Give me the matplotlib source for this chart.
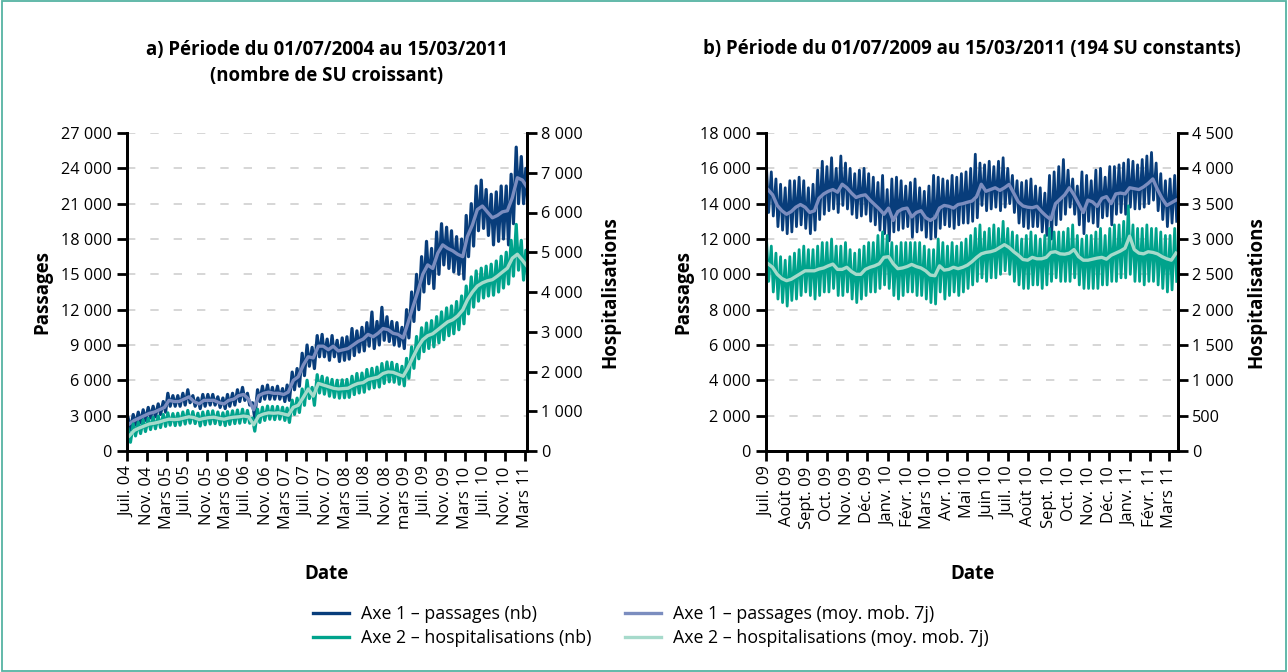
import matplotlib
matplotlib.use("Agg")
import matplotlib.pyplot as plt
from matplotlib.lines import Line2D
from matplotlib.patches import Rectangle
import numpy as np
import pandas as pd

plt.rcParams['font.family'] = ['Open Sans', 'DejaVu Sans']

# ---------------- Panel a data (monthly, Jul 2004 -> Mar 2011) ----------------
a_start = "2004-07-01"
a_end = "2011-03-15"
a_pass_ma = [2300, 2600, 2800, 3000, 3200, 3300, 3500, 3700, 4300, 4200,
             4200, 4400, 4600, 4200, 4000, 4300, 4300, 4300, 4100, 4000,
             4300, 4400, 4700, 4800, 4400, 3500, 4700, 4900, 5000, 4900,
             4900, 4800, 5000, 6000, 6300, 7300, 8000, 7900, 8900, 8900,
             8600, 8900, 8500, 8600, 8700, 9000, 9300, 9500, 9900, 9700,
             10000, 10400, 10300, 10000, 9900, 9600, 10800, 12200, 13500, 15000,
             15800, 15500, 16800, 17500, 17200, 17000, 16700, 16500, 18200, 19200,
             20500, 20800, 20300, 19800, 20000, 20300, 20400, 21500, 23200, 23000,
             22400]
a_pass_hi = [2800, 3100, 3300, 3500, 3700, 3800, 4000, 4200, 4900, 4700,
             4700, 4900, 5200, 4700, 4500, 4800, 4800, 4800, 4600, 4500,
             4800, 4900, 5200, 5400, 4900, 4100, 5200, 5500, 5600, 5400,
             5500, 5300, 5600, 6700, 7000, 8300, 9000, 8800, 9800, 9900,
             9500, 9800, 9400, 9600, 9700, 10400, 10200, 10500, 10900, 11800,
             11000, 12200, 11400, 11000, 10900, 10500, 12000, 13500, 15000, 16500,
             17800, 17200, 18600, 19300, 19000, 18700, 18200, 18000, 20000, 21000,
             22500, 23000, 22200, 21800, 22000, 22500, 22500, 23500, 25800, 25000,
             24000]
a_pass_lo = [1800, 2200, 2400, 2600, 2800, 2900, 3100, 3300, 3800, 3800,
             3800, 3900, 4100, 3800, 3600, 3800, 3900, 3900, 3700, 3600,
             3800, 3900, 4200, 4300, 3900, 2800, 4200, 4400, 4400, 4400,
             4400, 4200, 4300, 5200, 5500, 6400, 7200, 7000, 8000, 8000,
             7700, 8000, 7600, 7700, 7800, 8100, 8400, 8500, 8900, 8700,
             9000, 9400, 9300, 9000, 8900, 8700, 9600, 11000, 12000, 13500,
             14200, 13800, 15000, 15800, 15500, 15200, 15000, 14600, 16500, 17400,
             18700, 18900, 18300, 17500, 17800, 18000, 17500, 19300, 21000, 21000,
             20500]
a_hosp_ma = [380, 520, 580, 630, 680, 700, 730, 770, 800, 790,
             800, 830, 860, 840, 790, 820, 840, 850, 820, 800,
             830, 850, 860, 880, 860, 660, 880, 930, 960, 950,
             960, 930, 900, 1100, 1150, 1350, 1560, 1380, 1700, 1660,
             1620, 1580, 1560, 1570, 1580, 1650, 1700, 1720, 1800, 1830,
             1860, 1950, 1990, 1980, 1930, 1880, 2080, 2350, 2600, 2800,
             2900, 2950, 3050, 3150, 3250, 3300, 3400, 3550, 3800, 4000,
             4150, 4230, 4280, 4310, 4400, 4500, 4600, 4850, 4950, 4800,
             4650]
a_hosp_hi = [550, 680, 720, 780, 820, 850, 880, 920, 960, 940,
             950, 980, 1020, 990, 950, 980, 1000, 1010, 980, 960,
             990, 1010, 1030, 1050, 1020, 830, 1050, 1100, 1130, 1120,
             1120, 1100, 1080, 1280, 1330, 1560, 1780, 1600, 1920, 1880,
             1840, 1800, 1780, 1790, 1800, 1880, 1950, 1960, 2050, 2080,
             2110, 2200, 2240, 2230, 2180, 2130, 2330, 2620, 2880, 3100,
             3220, 3280, 3380, 3500, 3600, 3650, 3760, 3900, 4150, 4380,
             4530, 4600, 4650, 4700, 4780, 4900, 5000, 5300, 5700, 5300,
             5050]
a_hosp_lo = [220, 380, 440, 490, 540, 560, 590, 620, 650, 640,
             650, 680, 700, 690, 630, 660, 680, 690, 660, 640,
             670, 690, 700, 720, 700, 500, 720, 770, 800, 790,
             800, 770, 720, 920, 970, 1150, 1320, 1150, 1460, 1430,
             1380, 1350, 1330, 1340, 1350, 1420, 1460, 1480, 1560, 1590,
             1610, 1700, 1740, 1730, 1680, 1640, 1830, 2080, 2320, 2500,
             2580, 2620, 2720, 2800, 2900, 2950, 3050, 3200, 3450, 3620,
             3770, 3850, 3900, 3920, 4000, 4100, 4200, 4400, 4550, 4300,
             4250]
a_tick_dates = ["2004-07-01", "2004-11-01", "2005-03-01", "2005-07-01", "2005-11-01",
                "2006-03-01", "2006-07-01", "2006-11-01", "2007-03-01", "2007-07-01",
                "2007-11-01", "2008-03-01", "2008-07-01", "2008-11-01", "2009-03-01",
                "2009-07-01", "2009-11-01", "2010-03-01", "2010-07-01", "2010-11-01",
                "2011-03-01"]
a_tick_labels = ["Juil. 04", "Nov. 04", "Mars 05", "Juil. 05", "Nov. 05", "Mars 06",
                 "Juil. 06", "Nov. 06", "Mars 07", "Juil. 07", "Nov. 07", "Mars 08",
                 "Juil. 08", "Nov. 08", "mars 09", "Juil. 09", "Nov. 09", "Mars 10",
                 "Juil. 10", "Nov. 10", "Mars 11"]
a_left_ticks = [0, 3000, 6000, 9000, 12000, 15000, 18000, 21000, 24000, 27000]
a_left_labels = ["0", "3 000", "6 000", "9 000", "12 000", "15 000", "18 000",
                 "21 000", "24 000", "27 000"]
a_right_ticks = [0, 1000, 2000, 3000, 4000, 5000, 6000, 7000, 8000]
a_right_labels = ["0", "1 000", "2 000", "3 000", "4 000", "5 000", "6 000",
                  "7 000", "8 000"]

# ---------------- Panel b data (weekly, Jul 2009 -> Mar 2011) ----------------
b_start = "2009-07-01"
b_end = "2011-03-15"
b_pass_ma = [14800, 14500, 13900, 13600, 13400, 13550, 13800, 13950, 13800, 13500,
             13600, 14300, 14550, 14700, 14800, 14650, 15100, 14900, 14600, 14350,
             14450, 14500, 14200, 13950, 13700, 13400, 13750, 13050, 13550, 13700,
             13750, 13250, 13500, 13600, 13210, 13050, 13200, 13750, 13900, 13850,
             13750, 13950, 14000, 14080, 14150, 14400, 15100, 14700, 14800, 14900,
             14750, 14900, 15090, 14600, 14100, 13870, 13800, 13770, 13850, 13550,
             13300, 13100, 14000, 14250, 14500, 14900, 14500, 14000, 13500, 14200,
             14100, 13850, 14300, 14400, 14000, 14550, 14600, 14550, 14900, 14850,
             14800, 14950, 15150, 15400, 14800, 14300, 13900, 14050, 14200]
b_pass_hi = [15900, 15800, 15400, 15100, 14900, 15300, 15300, 15500, 15300, 14900,
             15100, 15900, 16400, 16100, 16600, 16000, 16700, 16300, 16000, 15700,
             15900, 16000, 15700, 15500, 15200, 15600, 14800, 15400, 15500, 15300,
             15000, 15200, 15400, 14900, 14700, 15000, 15600, 15500, 15400, 15300,
             15600, 15500, 15700, 15800, 16000, 16800, 16300, 16200, 16400, 16100,
             16400, 16600, 16000, 15600, 15300, 15200, 15300, 15400, 15000, 14900,
             14600, 15600, 15800, 16100, 16500, 15900, 15400, 15000, 15800, 15600,
             15300, 15900, 16000, 15500, 16100, 16100, 16200, 16300, 16500, 16400,
             16200, 16500, 16700, 16900, 16300, 15700, 15300, 15400, 15600]
b_pass_lo = [13500, 13300, 12700, 12500, 12300, 12400, 12700, 12800, 12600, 12300,
             12500, 13100, 13400, 13600, 13700, 13500, 13900, 13700, 13400, 13200,
             13300, 13400, 13000, 12800, 12500, 12300, 11900, 12400, 12500, 12600,
             12700, 12100, 12400, 12500, 12100, 12000, 12100, 12600, 12800, 12700,
             12600, 12800, 12900, 12900, 13000, 13200, 13900, 13600, 13700, 13800,
             13600, 13800, 14000, 13500, 12900, 12700, 12600, 12700, 12700, 12400,
             12200, 12000, 12800, 13100, 13400, 13800, 13400, 12800, 12300, 13000,
             12900, 12700, 13200, 13300, 12800, 13400, 13500, 13400, 13800, 13700,
             13700, 13800, 14000, 14200, 13600, 13100, 12700, 12900, 13000]
b_hosp_ma = [2650, 2600, 2500, 2440, 2410, 2430, 2470, 2510, 2550, 2550,
             2550, 2575, 2590, 2620, 2645, 2570, 2570, 2600, 2540, 2500,
             2500, 2570, 2600, 2620, 2650, 2740, 2750, 2650, 2580, 2590,
             2610, 2640, 2610, 2590, 2550, 2490, 2480, 2620, 2560, 2570,
             2600, 2580, 2600, 2630, 2680, 2740, 2790, 2810, 2820, 2840,
             2880, 2920, 2880, 2820, 2770, 2710, 2700, 2740, 2720, 2720,
             2740, 2810, 2820, 2790, 2785, 2800, 2850, 2750, 2700, 2700,
             2715, 2730, 2740, 2715, 2770, 2800, 2830, 2870, 3040, 2850,
             2800, 2790, 2820, 2810, 2790, 2750, 2720, 2700, 2800]
b_hosp_hi = [2950, 2900, 2800, 2750, 2700, 2750, 2800, 2850, 2900, 2850,
             2850, 2900, 2950, 2950, 3000, 2900, 2900, 2950, 2850, 2800,
             2850, 2900, 2950, 2950, 3050, 3100, 3050, 2950, 2900, 2950,
             2950, 2950, 2950, 2950, 2900, 2850, 2850, 3000, 2950, 2900,
             2950, 2900, 2950, 3000, 3050, 3150, 3200, 3100, 3150, 3200,
             3150, 3250, 3150, 3100, 3050, 3000, 3050, 3100, 3050, 3000,
             3050, 3150, 3100, 3100, 3100, 3150, 3200, 3050, 3000, 3050,
             3050, 3100, 3150, 3050, 3150, 3200, 3200, 3250, 3470, 3200,
             3150, 3150, 3200, 3150, 3150, 3100, 3050, 3050, 3150]
b_hosp_lo = [2400, 2250, 2150, 2100, 2050, 2130, 2150, 2200, 2250, 2200,
             2150, 2200, 2250, 2250, 2300, 2200, 2200, 2250, 2150, 2100,
             2150, 2200, 2250, 2250, 2300, 2350, 2300, 2200, 2150, 2200,
             2250, 2250, 2200, 2200, 2150, 2100, 2080, 2250, 2150, 2200,
             2250, 2200, 2250, 2300, 2350, 2400, 2450, 2400, 2450, 2450,
             2500, 2550, 2500, 2400, 2350, 2300, 2300, 2350, 2350, 2300,
             2350, 2400, 2450, 2400, 2400, 2400, 2450, 2350, 2300, 2300,
             2300, 2300, 2350, 2350, 2400, 2400, 2450, 2450, 2500, 2400,
             2400, 2350, 2400, 2400, 2350, 2300, 2250, 2280, 2400]
b_tick_dates = ["2009-07-01", "2009-08-01", "2009-09-01", "2009-10-01", "2009-11-01",
                "2009-12-01", "2010-01-01", "2010-02-01", "2010-03-01", "2010-04-01",
                "2010-05-01", "2010-06-01", "2010-07-01", "2010-08-01", "2010-09-01",
                "2010-10-01", "2010-11-01", "2010-12-01", "2011-01-01", "2011-02-01",
                "2011-03-01"]
b_tick_labels = ["Juil. 09", "Août 09", "Sept. 09", "Oct. 09", "Nov. 09", "Déc. 09",
                 "Janv. 10", "Févr. 10", "Mars 10", "Avr. 10", "Mai 10", "Juin 10",
                 "Juil. 10", "Août 10", "Sept. 10", "Oct. 10", "Nov. 10", "Déc. 10",
                 "Janv. 11", "Févr. 11", "Mars 11"]
b_left_ticks = [0, 2000, 4000, 6000, 8000, 10000, 12000, 14000, 16000, 18000]
b_left_labels = ["0", "2 000", "4 000", "6 000", "8 000", "10 000", "12 000",
                 "14 000", "16 000", "18 000"]
b_right_ticks = [0, 500, 1000, 1500, 2000, 2500, 3000, 3500, 4000, 4500]
b_right_labels = ["0", "500", "1 000", "1 500", "2 000", "2 500", "3 000",
                  "3 500", "4 000", "4 500"]

titles = ["a) Période du 01/07/2004 au 15/03/2011\n(nombre de SU croissant)",
          "b) Période du 01/07/2009 au 15/03/2011 (194 SU constants)"]
legend_labels = ["Axe 1 – passages (nb)", "Axe 2 – hospitalisations (nb)",
                 "Axe 1 – passages (moy. mob. 7j)", "Axe 2 – hospitalisations (moy. mob. 7j)"]

NAVY = "#083D7B"
LAV = "#7B8DBF"
TEAL = "#00A38C"
MINT = "#A6DACB"


def interleave(hi, lo):
    return np.ravel(np.column_stack([hi, lo]))


# dates for panel a
a_months = pd.date_range(a_start, periods=len(a_pass_ma), freq="MS")
a_ma_dates = a_months + pd.Timedelta(days=14)
a_raw_dates = pd.to_datetime(interleave(a_months + pd.Timedelta(days=7),
                                        a_months + pd.Timedelta(days=21)))
# dates for panel b
b_weeks = pd.date_range(b_start, periods=len(b_pass_ma), freq="7D")
b_ma_dates = b_weeks + pd.Timedelta(days=3)
b_raw_dates = pd.to_datetime(interleave(b_weeks + pd.Timedelta(days=1),
                                        b_weeks + pd.Timedelta(days=4)))

fig = plt.figure(figsize=(12.88, 6.72), dpi=100)
W, H = 1288, 672


def make_axes(l, r, t, b):
    return fig.add_axes([l / W, 1 - b / H, (r - l) / W, (b - t) / H])


def style(ax, ax2, xlim, tick_dates, tick_labels, lt, ll, rt, rl, ylim_l, ylim_r,
          lab_l_x, lab_r_x):
    ax.set_xlim(pd.Timestamp(xlim[0]), pd.Timestamp(xlim[1]))
    ax.set_ylim(*ylim_l)
    ax2.set_ylim(*ylim_r)
    ax.set_xticks(pd.to_datetime(tick_dates))
    ax.set_xticklabels(tick_labels, rotation=90, fontsize=12)
    ax.set_yticks(lt)
    ax.set_yticklabels(ll, fontsize=11.7)
    ax2.set_yticks(rt)
    ax2.set_yticklabels(rl, fontsize=11.7)
    for a in (ax, ax2):
        a.spines["top"].set_visible(False)
        for s in ("left", "right", "bottom"):
            a.spines[s].set_linewidth(2)
            a.spines[s].set_color("black")
    ax.tick_params(axis="y", direction="out", length=7, width=2, pad=4)
    ax2.tick_params(axis="y", direction="out", length=7, width=2, pad=3)
    ax.tick_params(axis="x", direction="out", length=7, width=2, pad=4)
    ax.yaxis.grid(True, color="#cfcfcf", linestyle=(0, (5, 9)), linewidth=1.2)
    ax.set_axisbelow(True)
    ax.set_ylabel("Passages", fontsize=13.5, fontweight="bold")
    ax.yaxis.set_label_coords(lab_l_x, 0.5)
    ax2.set_ylabel("Hospitalisations", fontsize=13.5, fontweight="bold")
    ax2.yaxis.set_label_coords(lab_r_x, 0.5)
    ax.set_xlabel("Date", fontsize=13.5, fontweight="bold")
    ax.xaxis.set_label_coords(0.5, -0.355)


# Panel a
axa = make_axes(127, 527, 133, 451)
axa2 = axa.twinx()
axa.plot(a_raw_dates, interleave(a_pass_hi, a_pass_lo), color=NAVY, lw=2.3)
axa.plot(a_ma_dates, a_pass_ma, color=LAV, lw=2.4)
axa2.plot(a_raw_dates, interleave(a_hosp_hi, a_hosp_lo), color=TEAL, lw=2.3)
axa2.plot(a_ma_dates, a_hosp_ma, color=MINT, lw=2.4)
style(axa, axa2, (a_start, a_end), a_tick_dates, a_tick_labels,
      a_left_ticks, a_left_labels, a_right_ticks, a_right_labels,
      (0, 27000), (0, 8000), -0.1875, 1.1825)

# Panel b
axb = make_axes(766, 1178, 133, 451)
axb2 = axb.twinx()
axb.plot(b_raw_dates, interleave(b_pass_hi, b_pass_lo), color=NAVY, lw=2.0)
axb.plot(b_ma_dates, b_pass_ma, color=LAV, lw=2.4)
axb2.plot(b_raw_dates, interleave(b_hosp_hi, b_hosp_lo), color=TEAL, lw=2.0)
axb2.plot(b_ma_dates, b_hosp_ma, color=MINT, lw=2.4)
style(axb, axb2, (b_start, b_end), b_tick_dates, b_tick_labels,
      b_left_ticks, b_left_labels, b_right_ticks, b_right_labels,
      (0, 18000), (0, 4500), -0.176, 1.165)

fig.text(327 / W, 1 - 63 / H, titles[0], ha="center", va="center",
         fontsize=13.4, fontweight="bold", linespacing=1.45)
fig.text(972 / W, 1 - 49 / H, titles[1], ha="center", va="center",
         fontsize=13.4, fontweight="bold")

handles = [Line2D([], [], color=NAVY, lw=2.4), Line2D([], [], color=TEAL, lw=2.4),
           Line2D([], [], color=LAV, lw=2.4), Line2D([], [], color=MINT, lw=2.4)]
fig.legend(handles, legend_labels, ncol=2, loc="center",
           bbox_to_anchor=(651 / W, 1 - 626 / H), frameon=False,
           fontsize=12.8, handlelength=2.0, handletextpad=0.7,
           columnspacing=1.9, labelspacing=0.35)

fig.patches.append(Rectangle((0.0012, 0.002), 0.9976, 0.996, transform=fig.transFigure,
                             fill=False, edgecolor="#55B3A3", lw=1.3))

fig.savefig("out.png", dpi=100)
